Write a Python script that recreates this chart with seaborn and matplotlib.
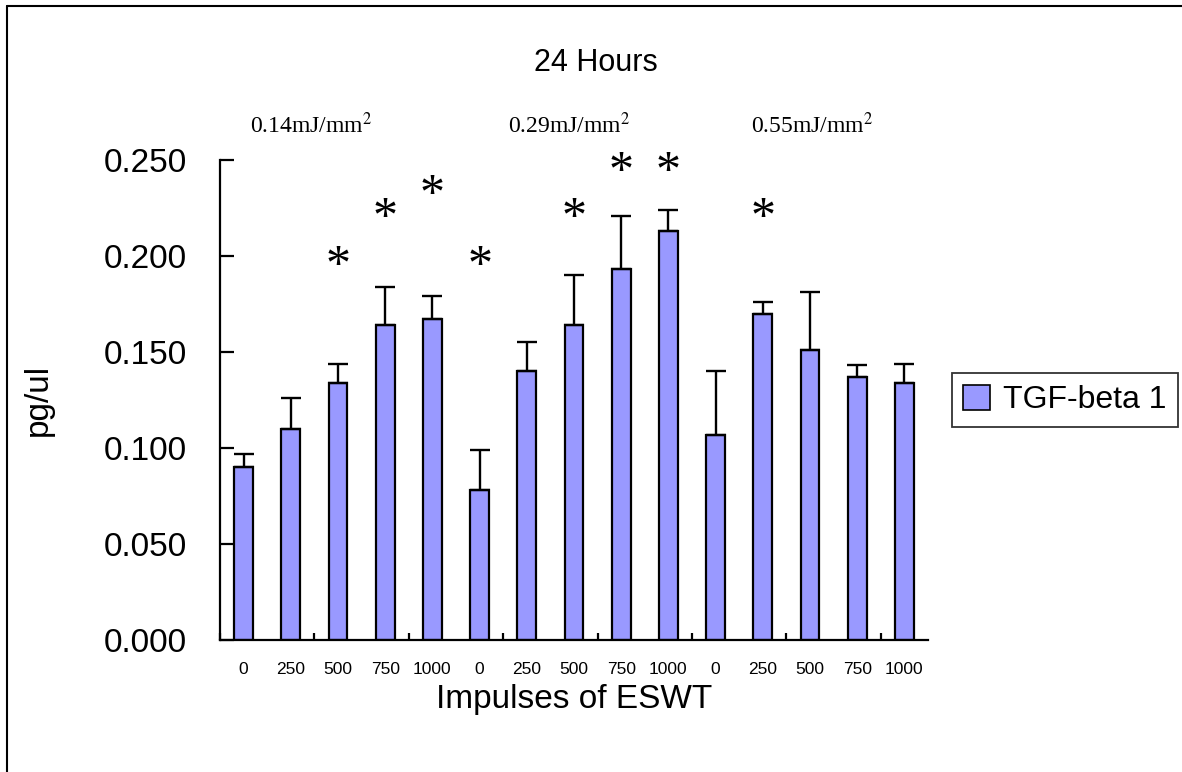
import numpy as np
import pandas as pd
import matplotlib
matplotlib.use("Agg")
import matplotlib.pyplot as plt
from matplotlib.lines import Line2D
from matplotlib.patches import Patch
import seaborn as sns

# ---- data -------------------------------------------------------------
impulses = ["0", "250", "500", "750", "1000"]
energy_levels = ["0.14mJ/mm$^{2}$", "0.29mJ/mm$^{2}$", "0.55mJ/mm$^{2}$"]
tgf_mean = [0.090, 0.110, 0.134, 0.164, 0.167,
            0.078, 0.140, 0.164, 0.193, 0.213,
            0.107, 0.170, 0.151, 0.137, 0.134]
tgf_sd = [0.007, 0.016, 0.010, 0.020, 0.012,
          0.021, 0.015, 0.026, 0.028, 0.011,
          0.033, 0.006, 0.030, 0.006, 0.010]
# significance markers: (bar index, height of the asterisk)
signif_idx = [2, 3, 4, 5, 7, 8, 9, 11]
signif_y = [0.200, 0.225, 0.237, 0.200, 0.225, 0.249, 0.249, 0.225]
y_ticks = [0.000, 0.050, 0.100, 0.150, 0.200, 0.250]

n = len(tgf_mean)
df = pd.DataFrame({
    "pos": [str(i) for i in range(n)],
    "impulse": impulses * len(energy_levels),
    "value": tgf_mean,
})

sns.set_style("white")
plt.rcParams["font.family"] = ["Liberation Sans", "DejaVu Sans"]
plt.rcParams["mathtext.fontset"] = "stix"
plt.rcParams["text.color"] = "black"
plt.rcParams["axes.labelcolor"] = "black"
plt.rcParams["xtick.color"] = "black"
plt.rcParams["ytick.color"] = "black"

W, H = 1182, 772
fig = plt.figure(figsize=(W / 100, H / 100), dpi=100)
ax = fig.add_axes([220 / W, 1 - 640 / H, (928 - 220) / W, 480 / H])

bar_color = "#9999FF"
sns.barplot(data=df, x="pos", y="value", order=df["pos"].tolist(),
            color=bar_color, width=0.4, edgecolor="black", linewidth=1.6,
            errorbar=None, saturation=1, ax=ax)

# upper-only error bars
xs = np.arange(n)
ax.errorbar(xs, tgf_mean, yerr=[np.zeros(n), tgf_sd], fmt="none",
            ecolor="black", elinewidth=1.7, capsize=7, capthick=1.7, zorder=3)

ax.set_xlim(-0.5, n - 0.5)
ax.set_ylim(0, 0.25)

# axes styling
for side in ["top", "right"]:
    ax.spines[side].set_visible(False)
for side in ["left", "bottom"]:
    ax.spines[side].set_linewidth(1.6)
    ax.spines[side].set_color("black")

ax.set_yticks(y_ticks)
ax.set_yticklabels([f"{v:.3f}" for v in y_ticks], fontsize=24)
ax.tick_params(axis="y", left=True, direction="in", length=10, width=1.6, pad=24)

# category labels every bar, tick marks every second boundary
ax.set_xticks(xs, minor=False)
ax.set_xticklabels(df["impulse"].tolist(), fontsize=12.5)
ax.tick_params(axis="x", which="major", bottom=True, length=0, pad=16)
ax.set_xticks(np.arange(-0.5, n, 2.0), minor=True)
ax.tick_params(axis="x", which="minor", bottom=True, direction="in", length=5, width=1.6)

ax.set_xlabel("Impulses of ESWT", fontsize=24, labelpad=5)
ax.set_ylabel("pg/ul", fontsize=24, labelpad=36)

# title
fig.text(596 / W, 1 - 63 / H, "24 Hours", fontsize=22, ha="center", va="center")

# energy-level group labels
group_x = [0.14, 5.6, 10.75]
for gx, lab in zip(group_x, energy_levels):
    ax.text(gx, 0.264, lab, fontsize=17, family="Liberation Serif",
            ha="left", va="baseline")

# significance asterisks
fs_star = 36
for i, yv in zip(signif_idx, signif_y):
    ax.annotate("*", (i, yv), xytext=(0, -0.46 * fs_star), textcoords="offset points",
                ha="center", va="baseline", fontsize=fs_star,
                family="Liberation Serif", annotation_clip=False)

# legend
handles = [Patch(facecolor=bar_color, edgecolor="black", linewidth=1.2)]
leg = fig.legend(handles, ["TGF-beta 1"], loc="center left",
                 bbox_to_anchor=(952 / W, 1 - 400 / H), fontsize=23,
                 frameon=True, fancybox=False, borderpad=0.35,
                 handlelength=0.85, handleheight=0.85, handletextpad=0.4,
                 borderaxespad=0)
leg.get_frame().set_edgecolor("black")
leg.get_frame().set_linewidth(1.3)

# outer frame (left and top edges)
fig.add_artist(Line2D([7 / W, 7 / W], [0, 1 - 6 / H], color="black", lw=1.5,
                      transform=fig.transFigure))
fig.add_artist(Line2D([7 / W, 1], [1 - 6 / H, 1 - 6 / H], color="black", lw=1.5,
                      transform=fig.transFigure))

fig.savefig("out.png", dpi=100)
